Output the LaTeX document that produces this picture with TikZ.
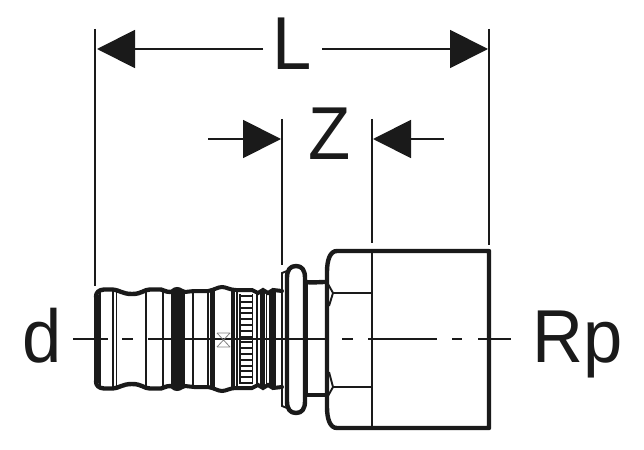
\documentclass[tikz,border=0pt]{standalone}
\usepackage{fontspec}
\setmainfont{Liberation Sans}
\usetikzlibrary{arrows.meta}
\definecolor{ink}{HTML}{1A1A1A}
\tikzset{
  ext/.style={draw=ink,line width=1.9pt},
  dimline/.style={draw=ink,line width=1.9pt,-{Triangle[length=38pt,width=38pt,color=ink]}},
  label/.style={inner sep=0pt,text=ink,font=\fontsize{75}{80}\selectfont,anchor=base},
  thick outline/.style={draw=ink,line width=4.4pt,line cap=round,line join=round},
  mid/.style={draw=ink,line width=2.8pt},
  thin/.style={draw=ink,line width=1.9pt},
  heavy/.style={draw=ink,line width=4.4pt},
  axis/.style={draw=ink,line width=2pt},
}
\begin{document}
\begin{tikzpicture}[x=1pt,y=-1pt]
\useasboundingbox (0,0) rectangle (644,449);
% labels
\node[label] (L) at (292,70) {\scalebox{0.94}[1]{L}};
\node[label] (Z) at (330,159) {\scalebox{0.92}[1]{Z}};
\node[label] (d) at (42.5,362.5) {\scalebox{0.94}[1]{d}};
\node[label] (Rp) at (578,362.5) {\scalebox{0.94}[1]{Rp}};
% extension lines
\coordinate (la) at (95,29); \coordinate (lb) at (95,286);
\coordinate (ra) at (489,29); \coordinate (rb) at (489,245);
\coordinate (za) at (282,119); \coordinate (zb) at (282,265);
\coordinate (ya) at (372,119); \coordinate (yb) at (372,243);
\draw[ext] (la) -- (lb);
\draw[ext] (ra) -- (rb);
\draw[ext] (za) -- (zb);
\draw[ext] (ya) -- (yb);
% dimension arrows
\coordinate (l1) at (263,49); \coordinate (l2) at (97,49);
\coordinate (r1) at (322,49); \coordinate (r2) at (488,49);
\coordinate (z1) at (208,139); \coordinate (z2) at (281,139);
\coordinate (y1) at (444,139); \coordinate (y2) at (373,139);
\draw[dimline] (l1) -- (l2);
\draw[dimline] (r1) -- (r2);
\draw[dimline] (z1) -- (z2);
\draw[dimline] (y1) -- (y2);
% centre line
\draw[axis] (73,339) -- (108,339) (122,339) -- (133,339) (148,339) -- (325,339)
  (342,339) -- (353,339) (368,339) -- (437,339) (452,339) -- (462,339) (478,339) -- (511,339);
% socket body
\draw[thick outline] (489,251) -- (337,251) .. controls (330,251) and (327,260) .. (327,272)
  -- (327,407) .. controls (327,419) and (330,428) .. (337,428) -- (489,428) -- cycle;
\draw[thin] (372,251) -- (372,428);
\draw[thin] (333,293) -- (372,293) (333,387) -- (372,387);
\draw[thin] (328,284) -- (333,293) -- (329,306);
\draw[thin] (328,396) -- (333,387) -- (329,372);
% neck
\draw[thick outline] (306,282) .. controls (310,283) and (320,282) .. (325,282);
\draw[thick outline] (306,395) .. controls (310,395) and (320,395) .. (325,395);
\draw[heavy] (306,282) -- (306,395);
% flange
\draw[thick outline] (287,278) .. controls (287,270) and (290,266) .. (296,266)
  .. controls (302,266) and (305,270) .. (305,278) -- (305,401)
  .. controls (305,409) and (302,413) .. (296,413)
  .. controls (290,413) and (287,409) .. (287,401) -- cycle;
\draw[thin] (287,271) -- (282,273) -- (282,406) -- (287,408);
% tube outline, top and bottom
\foreach \t/\s in {0/1,678/-1}{
\begin{scope}[shift={(0,\t)},yscale=\s]
\draw[thick outline] (96,297) .. controls (96,292) and (99,290) .. (104,289.5)
  -- (112,289.5) .. controls (120,290) and (122,294) .. (132,294)
  .. controls (142,294) and (144,289.5) .. (150,289.5) -- (161,289.5)
  .. controls (164,290) and (165,292) .. (171,292);
\draw[draw=ink,line width=4pt,line cap=round] (171,292) .. controls (173,292) and (173,289) .. (177,289)
  .. controls (181,289) and (182,292) .. (185,292) -- (194,291) -- (208,291)
  .. controls (214,290) and (218,287) .. (222,287)
  .. controls (226,287) and (230,290) .. (236,290) -- (252,290)
  .. controls (254,290) and (256,293) .. (258,293)
  .. controls (260,293) and (261,290) .. (263,290)
  .. controls (265,290) and (266,293) .. (268,293)
  .. controls (270,293) and (271,290) .. (273,290) -- (282,291);
\end{scope}}
% tube vertical lines
\draw[heavy] (96.5,295) -- (96.5,383);
\draw[thin] (100,290) -- (100,388) (113,290) -- (113,388) (116.5,290) -- (116.5,388)
  (146,290) -- (146,388) (163,290) -- (163,388) (172,292) -- (172,386)
  (184,292) -- (184,386) (193,291) -- (193,387);
\draw[draw=ink,line width=10.5pt] (178,289) -- (178,389);
\draw[thin] (208,291) -- (208,387);
\draw[heavy] (212.5,290) -- (212.5,388);
\draw[heavy] (233,290) -- (233,388);
\draw[thin] (237,290) -- (237,388);
\draw[thin] (240,294) -- (240,384) (252.5,294) -- (252.5,384);
\draw[mid] (257,293) -- (257,385);
\draw[heavy] (262.5,291) -- (262.5,387);
\draw[thin] (266.5,292) -- (266.5,386);
\draw[heavy] (271.5,291) -- (271.5,387);
\draw[thin] (275,291) -- (275,387);
% knurl
\foreach \k in {0,...,15}{
  \draw[draw=ink,line width=2pt] (240,{296+\k*5.8}) -- (252.5,{296+\k*5.8});
}
% small cross mark
\draw[draw=ink!55,line width=0.8pt] (217,333) -- (230,333) (217,347) -- (230,347)
  (217,333) -- (230,347) (230,333) -- (217,347);
\end{tikzpicture}
\end{document}
